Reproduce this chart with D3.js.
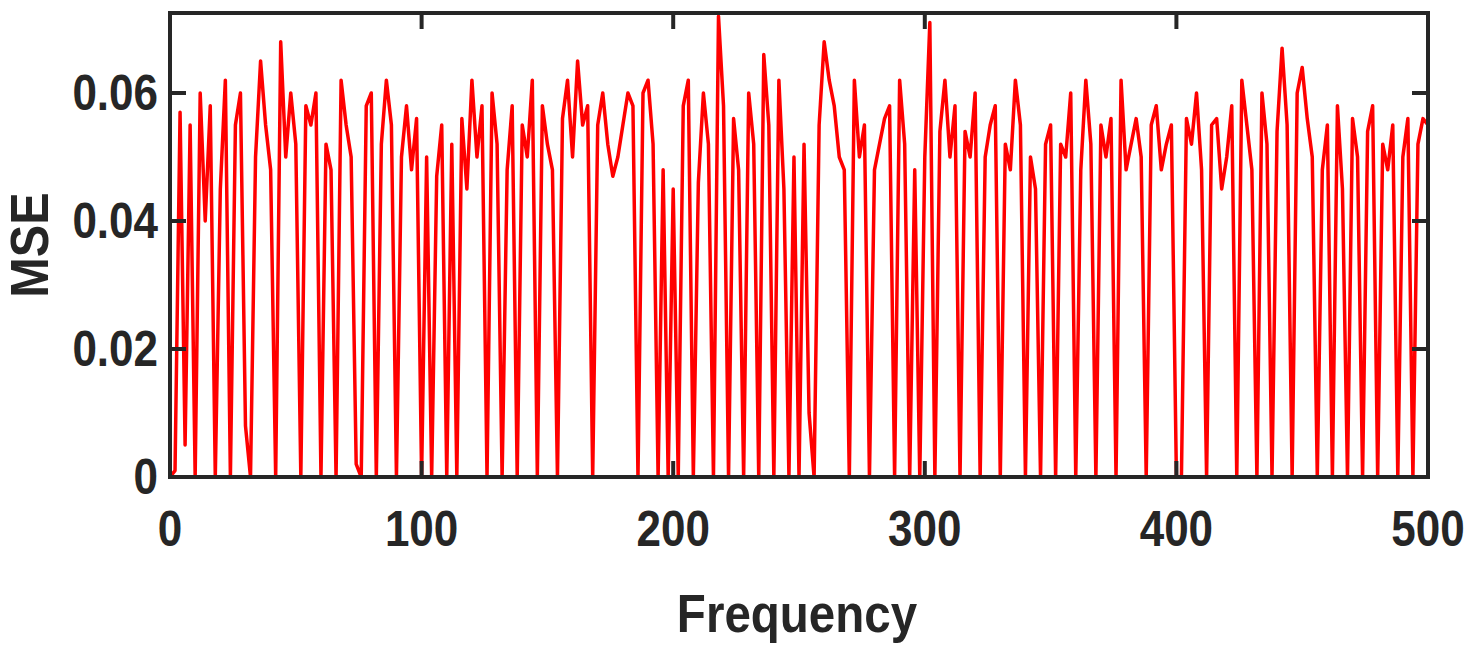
<!DOCTYPE html><html><head><meta charset="utf-8">
<script src="https://cdn.jsdelivr.net/npm/d3@7"></script>
<style>body{margin:0;background:#fff}text{font-family:"Liberation Sans",Arial,sans-serif;fill:#262626;font-weight:bold}</style>
</head><body><svg id="c" width="1473" height="655"></svg>
<script>
// MSE values in units of 1e-3, frequency step 2 from 0 to 500
const seg0=[0,1,57,5,55,0,60,40,58,0,45,62,0,55,60,8,0,50,65,55,48,0,68,50,60];
const seg1=[52,0,58,55,60,0,52,48,0,62,55,50,2,0,58,60,0,52,62,55,0,50,58,48,56];
const seg2=[0,50,0,47,55,0,52,0,56,45,62,50,58,0,60,52,0,48,58,0,55,50,62,0,58];
const seg3=[52,48,0,56,62,50,65,55,58,0,55,60,52,47,50,55,60,58,0,60,62,52,0,48,0];
const seg4=[45,0,58,62,0,46,60,52,0,72,58,0,56,48,0,60,52,0,66,55,0,62,45,0,50];
const seg5=[0,52,10,0,55,68,62,58,50,48,0,62,50,55,0,48,52,56,58,0,62,52,0,48,0];
const seg6=[50,71,0,54,62,50,58,0,54,50,60,0,50,55,58,0,52,48,62,55,0,50,45,0,52];
const seg7=[55,0,52,50,60,0,48,62,52,0,55,50,56,0,62,48,52,56,50,0,55,58,48,52,55];
const seg8=[0,0,56,52,60,48,0,55,56,45,50,58,0,62,55,48,0,60,52,0,54,67,55,0,60];
const seg9=[64,56,50,0,48,55,0,58,45,0,56,50,0,54,58,0,52,48,55,0,50,56,0,52,56,55];
const xTicks=[0,100,200,300,400,500];
const yTicks=[0,0.02,0.04,0.06];
const yLabels=["0","0.02","0.04","0.06"];
const mse=[].concat(seg0,seg1,seg2,seg3,seg4,seg5,seg6,seg7,seg8,seg9);
const data=mse.map((v,i)=>({f:i*2,v:v/1000}));

const svg=d3.select("#c");
const L=170,R=1428,T=13,B=477;
const x=d3.scaleLinear().domain([0,500]).range([L,R]);
const y=d3.scaleLinear().domain([0,0.0725]).range([B,T]);
svg.append("path").datum(data).attr("fill","none").attr("stroke","#ff0000").attr("stroke-width",3.5)
 .attr("stroke-linejoin","round").attr("d",d3.line().x(d=>x(d.f)).y(d=>y(d.v)));
const fc="#262626";
svg.append("rect").attr("x",L).attr("y",T).attr("width",R-L).attr("height",B-T).attr("fill","none").attr("stroke",fc).attr("stroke-width",4);
const g=svg.append("g");
const sx=0.88;
xTicks.forEach(t=>{
 g.append("line").attr("x1",x(t)).attr("x2",x(t)).attr("y1",B).attr("y2",B-16).attr("stroke",fc).attr("stroke-width",4);
 g.append("line").attr("x1",x(t)).attr("x2",x(t)).attr("y1",T).attr("y2",T+16).attr("stroke",fc).attr("stroke-width",4);
 g.append("text").attr("transform",`translate(${x(t)},546) scale(${sx},1)`).attr("text-anchor","middle").attr("font-size",50).text(t);
});
yTicks.forEach((t,i)=>{
 g.append("line").attr("x1",L).attr("x2",L+16).attr("y1",y(t)).attr("y2",y(t)).attr("stroke",fc).attr("stroke-width",4);
 g.append("line").attr("x1",R).attr("x2",R-16).attr("y1",y(t)).attr("y2",y(t)).attr("stroke",fc).attr("stroke-width",4);
 g.append("text").attr("transform",`translate(158,${y(t)+17}) scale(${sx},1)`).attr("text-anchor","end").attr("font-size",50).text(yLabels[i]);
});
svg.append("text").attr("transform",`translate(797,632) scale(${sx},1)`).attr("text-anchor","middle").attr("font-size",54).text("Frequency");
svg.append("text").attr("transform","translate(48,245) rotate(-90) scale(0.9,1)").attr("text-anchor","middle").attr("font-size",54).text("MSE");
</script></body></html>
